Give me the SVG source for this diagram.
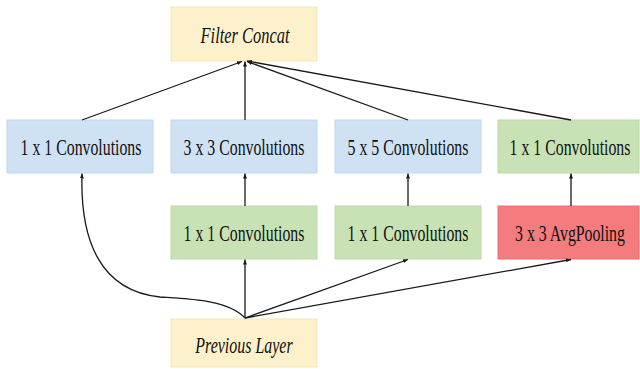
<svg xmlns="http://www.w3.org/2000/svg" width="640" height="369" viewBox="0 0 640 369">
<defs>
<marker id="ah" viewBox="0 0 10 10" refX="10" refY="5" markerWidth="5" markerHeight="5" orient="auto" markerUnits="userSpaceOnUse">
<path d="M0,1 L10,5 L0,9 z" fill="#1a1a1a"/>
</marker>
<style>
.yellow{fill:#fcf1cb;stroke:#f4e6bb;stroke-width:1}
.blue{fill:#cfe2f4;stroke:#c2d8ee;stroke-width:1}
.green{fill:#c8e2b6;stroke:#bcd9a8;stroke-width:1}
.red{fill:#f57c7e;stroke:#ef7072;stroke-width:1}
.lbl{font-family:"Liberation Serif","Times New Roman",serif;font-size:23px;fill:#111111;text-anchor:middle}
.it{font-style:italic}
.c{fill:none;stroke:#1a1a1a;stroke-width:1.3;marker-end:url(#ah)}
</style>
</defs>
<rect width="640" height="369" fill="#ffffff"/>
<g id="filter-concat"><rect class="yellow" x="171" y="7" width="146" height="54"/><text class="lbl it" transform="translate(245,43) scale(0.714,1)">Filter Concat</text></g>
<g id="conv1x1-a"><rect class="blue" x="7" y="120" width="146" height="53"/><text class="lbl" transform="translate(81,155) scale(0.688,1)">1 x 1 Convolutions</text></g>
<g id="conv3x3"><rect class="blue" x="171" y="120" width="146" height="53"/><text class="lbl" transform="translate(244,155) scale(0.688,1)">3 x 3 Convolutions</text></g>
<g id="conv5x5"><rect class="blue" x="335" y="120" width="146" height="53"/><text class="lbl" transform="translate(408,155) scale(0.688,1)">5 x 5 Convolutions</text></g>
<g id="conv1x1-d"><rect class="green" x="498" y="120" width="141" height="53"/><text class="lbl" transform="translate(570,155) scale(0.688,1)">1 x 1 Convolutions</text></g>
<g id="conv1x1-b"><rect class="green" x="171" y="206" width="146" height="53"/><text class="lbl" transform="translate(244,241) scale(0.688,1)">1 x 1 Convolutions</text></g>
<g id="conv1x1-c"><rect class="green" x="335" y="206" width="146" height="53"/><text class="lbl" transform="translate(408,241) scale(0.688,1)">1 x 1 Convolutions</text></g>
<g id="avgpool"><rect class="red" x="498" y="206" width="141" height="53"/><text class="lbl" transform="translate(570,241) scale(0.687,1)">3 x 3 AvgPooling</text></g>
<g id="previous-layer"><rect class="yellow" x="171" y="319" width="146" height="48"/><text class="lbl it" transform="translate(244,353) scale(0.694,1)">Previous Layer</text></g>
<g id="connectors">
<path class="c" d="M82,120 L242,61.5"/>
<path class="c" d="M245,120 L245,61.5"/>
<path class="c" d="M408,120 L247,61.5"/>
<path class="c" d="M571,120 L247,61"/>
<path class="c" d="M245,206 L245,173.5"/>
<path class="c" d="M408,206 L408,173.5"/>
<path class="c" d="M571,206 L571,173.5"/>
<path class="c" d="M245,318 L245,259.5"/>
<path class="c" d="M245,318 L408,259.5"/>
<path class="c" d="M245,318 L571,259.5"/>
<path class="c" d="M245,318 C228,300 190,299 160,297 C100,291 80,240 82,173.5"/>
</g>
</svg>
